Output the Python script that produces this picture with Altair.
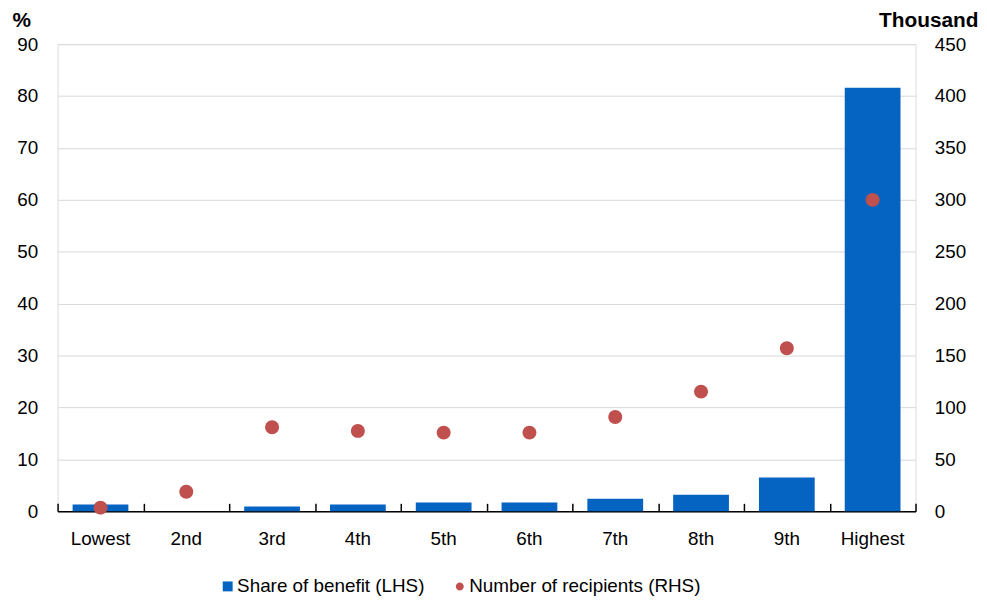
import altair as alt
import pandas as pd

categories = ["Lowest", "2nd", "3rd", "4th", "5th", "6th", "7th", "8th", "9th", "Highest"]
share_pct = [1.3, 0.0, 0.9, 1.3, 1.7, 1.7, 2.4, 3.2, 6.5, 81.6]
recipients_k = [3.5, 18.8, 81, 77.4, 75.8, 75.8, 90.8, 115.3, 157, 300]

s1 = "Share of benefit (LHS)"
s2 = "Number of recipients (RHS)"

df = pd.DataFrame({"cat": categories, "share": share_pct, "rec": recipients_k})
df["s1"] = s1
df["s2"] = s2

FONT = "Liberation Sans"
FS = 19
W, H = 865, 471

xsc_bar = alt.Scale(domain=categories, paddingInner=0.35, paddingOuter=0.175)
xsc_pt = alt.Scale(domain=categories, paddingInner=0, paddingOuter=0)
col = alt.Scale(domain=[s1, s2], range=["#0563C1", "#C0504D"])
shp = alt.Scale(domain=[s1, s2], range=["M-1,-1H1V1H-1Z",
                                         "M-0.8,0A0.8,0.8,0,1,1,0.8,0A0.8,0.8,0,1,1,-0.8,0"])

legend = alt.Legend(title=None, orient="none", direction="horizontal", legendX=162, legendY=537,
                    labelFontSize=FS, labelFont=FONT, labelColor="#000", symbolSize=100,
                    symbolStrokeWidth=0, columnPadding=25, labelOffset=0, padding=0,
                    labelLimit=500)

bars = alt.Chart(df).mark_bar().encode(
    x=alt.X("cat:N", scale=xsc_bar, sort=categories,
            axis=alt.Axis(title=None, orient="bottom", ticks=False, labelAngle=0, labelFontSize=FS,
                          labelFont=FONT, labelColor="#000", labelPadding=19, domainColor="#000",
                          domainWidth=1.5, grid=False)),
    y=alt.Y("share:Q", scale=alt.Scale(domain=[0, 90]),
            axis=alt.Axis(title="%", titleAngle=0, titleAlign="left", titleX=-46, titleY=-18,
                          titleBaseline="alphabetic", titleFontSize=21, titleFont=FONT,
                          titleFontWeight="bold", titleColor="#000",
                          values=list(range(0, 91, 10)), ticks=False, domain=False,
                          labelFontSize=FS, labelFont=FONT, labelColor="#000", labelPadding=20,
                          gridColor="#d9d9d9", gridWidth=1)),
    color=alt.Color("s1:N", scale=col, legend=legend),
)

pts = alt.Chart(df).mark_point(filled=True, opacity=1, size=306).encode(
    x=alt.X("cat:N", scale=xsc_pt, sort=categories,
            axis=alt.Axis(title=None, orient="top", offset=-H, labels=False, domain=False,
                          ticks=True, tickBand="extent", tickSize=8, tickColor="#000",
                          tickWidth=1.5, grid=False)),
    y=alt.Y("rec:Q", scale=alt.Scale(domain=[0, 450]),
            axis=alt.Axis(title="Thousand", orient="right", titleAngle=0, titleAlign="right",
                          titleX=63, titleY=-18, titleBaseline="alphabetic", titleFontSize=21,
                          titleFont=FONT, titleFontWeight="bold", titleColor="#000",
                          values=list(range(0, 451, 50)), ticks=False, domain=False, grid=False,
                          labelFontSize=FS, labelFont=FONT, labelColor="#000", labelPadding=19)),
    color=alt.Color("s2:N", scale=col, legend=legend),
    shape=alt.Shape("s2:N", scale=shp, legend=legend),
)

chart = alt.layer(bars, pts).resolve_scale(y="independent", x="independent").resolve_axis(x="independent").properties(
    width=W, height=H,
    autosize=alt.AutoSizeParams(type="none"),
    padding={"left": 50, "top": 34, "right": 64, "bottom": 84},
).configure_view(stroke=None).configure(background="white")

chart.save("out.html", embed_options={"renderer": "svg", "actions": False})
